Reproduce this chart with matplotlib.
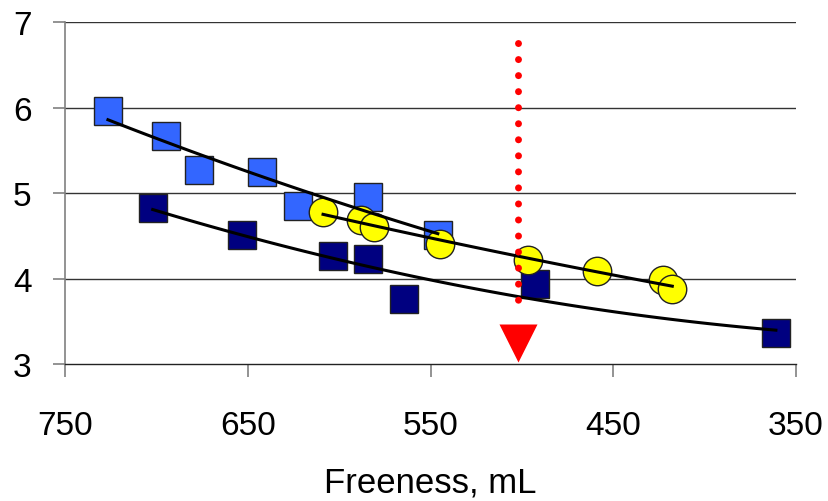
import matplotlib.pyplot as plt
import numpy as np

plt.rcParams['font.family'] = ['Liberation Sans', 'DejaVu Sans']

# light blue squares
blue_x = [726.5, 694.7, 676.7, 642.0, 622.5, 584.0, 546.0]
blue_y = [5.96, 5.67, 5.27, 5.25, 4.85, 4.95, 4.51]

# dark navy squares
navy_x = [702.0, 653.3, 603.2, 584.2, 564.3, 492.8, 361.0]
navy_y = [4.83, 4.51, 4.26, 4.23, 3.76, 3.94, 3.36]

# yellow circles
yellow_x = [608.8, 588.0, 580.8, 544.8, 496.8, 458.7, 422.6, 417.7]
yellow_y = [4.78, 4.68, 4.60, 4.40, 4.22, 4.085, 3.98, 3.88]

# red marker line
marker_x = 502
marker_top = 6.75
marker_bottom = 3.57
arrow_y = 3.24

x_ticks = [750, 650, 550, 450, 350]
y_ticks = [3, 4, 5, 6, 7]

fig = plt.figure(figsize=(8.29, 5.02), dpi=100)
ax = fig.add_axes([65 / 829, 1 - 365 / 502, (796 - 65) / 829, (365 - 23) / 502])

for y in [4, 5, 6, 7]:
    ax.axhline(y, color='#333333', lw=1.0, zorder=1)

ax.plot(blue_x, blue_y, 's', ms=20.5, mfc='#3366FF', mec='#222222', mew=1.0, zorder=3)
ax.plot(navy_x, navy_y, 's', ms=20.5, mfc='#000080', mec='#222222', mew=1.0, zorder=3)
ax.plot(yellow_x, yellow_y, 'o', ms=20.5, mfc='#FFFF00', mec='#222222', mew=1.0, zorder=4)


def trend(xs, ys, kind):
    xx = np.linspace(max(xs), min(xs), 100)
    if kind == 'exp':
        coef = np.polyfit(xs, np.log(ys), 1)
        return xx, np.exp(np.polyval(coef, xx))
    coef = np.polyfit(xs, ys, 2)
    return xx, np.polyval(coef, xx)


for xs, ys, kind in [(blue_x, blue_y, 'exp'), (navy_x, navy_y, 'poly'),
                     (yellow_x, yellow_y, 'exp')]:
    xx, yy = trend(xs, ys, kind)
    ax.plot(xx, yy, color='black', lw=2.2, zorder=5)

ax.plot([marker_x, marker_x], [marker_top, marker_bottom], color='#FF0000', lw=5,
        linestyle=(0, (0.01, 2.3)), dash_capstyle='round', zorder=6)
ax.plot([marker_x], [arrow_y], 'v', ms=28, color='#FF0000', mec='none', zorder=6)

ax.set_xlim(750, 350)
ax.set_ylim(3, 7)
ax.set_xticks(x_ticks)
ax.set_yticks(y_ticks)
ax.set_xticklabels([str(v) for v in x_ticks], fontsize=24)
ax.set_yticklabels([str(v) for v in y_ticks], fontsize=24)
ax.tick_params(axis='x', length=9, width=1.2, color='#808080', pad=24)
ax.tick_params(axis='y', length=9, width=1.2, color='#808080', pad=15)

for side in ['top', 'right']:
    ax.spines[side].set_visible(False)
ax.spines['left'].set_color('#808080')
ax.spines['left'].set_linewidth(1.2)
ax.spines['bottom'].set_color('#222222')
ax.spines['bottom'].set_linewidth(1.0)

ax.set_xlabel('Freeness, mL', fontsize=25, labelpad=18)

fig.savefig('out.png', dpi=100)
